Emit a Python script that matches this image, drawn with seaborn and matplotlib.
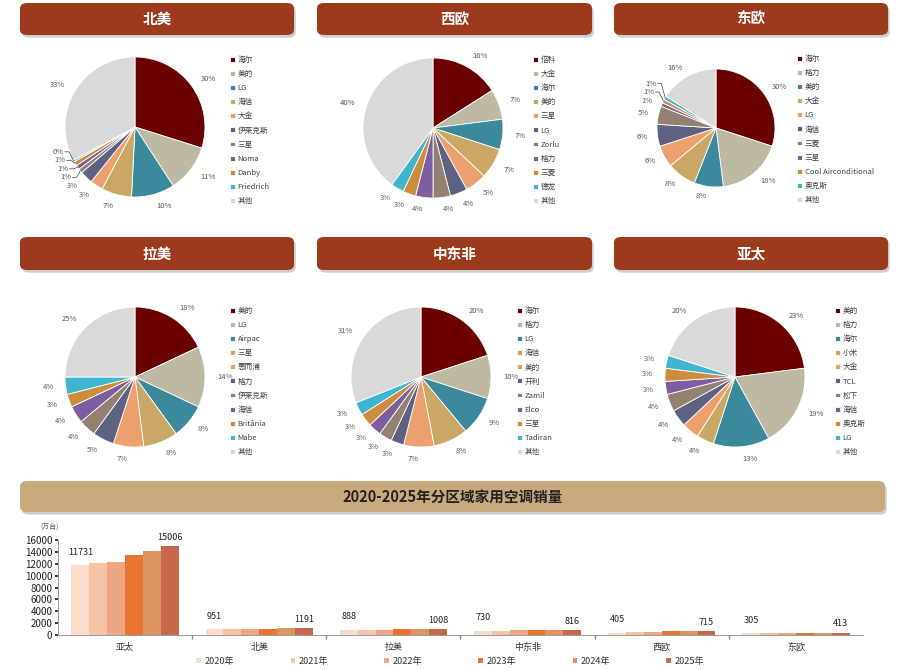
import numpy as np
import pandas as pd
import matplotlib
matplotlib.use('Agg')
import matplotlib.pyplot as plt
import seaborn as sns
from matplotlib.patches import FancyBboxPatch

sns.set_theme(style='white')
plt.rcParams['font.family'] = ['Noto Sans CJK SC', 'DejaVu Sans']

# ---- pie data (market share, %) ----
na_brands = ['海尔', '美的', 'LG', '海信', '大金', '伊莱克斯', '三星', 'Noma', 'Danby', 'Friedrich', '其他']
na_share = [30, 11, 10, 7, 3, 3, 1, 1, 1, 0.4, 33]

we_brands = ['倍科', '大金', '海尔', '美的', '三星', 'LG', 'Zorlu', '格力', '三菱', '德龙', '其他']
we_share = [16, 7, 7, 7, 5, 4, 4, 4, 3, 3, 40]

ee_brands = ['海尔', '格力', '美的', '大金', 'LG', '海信', '三菱', '三星', 'Cool Airconditional', '奥克斯', '其他']
ee_share = [30, 18, 8, 8, 6, 6, 5, 1, 1, 1, 16]

la_brands = ['美的', 'LG', 'Airpac', '三星', '惠而浦', '格力', '伊莱克斯', '海信', 'Britânia', 'Mabe', '其他']
la_share = [18, 14, 8, 8, 7, 5, 4, 4, 3, 4, 25]

mea_brands = ['海尔', '格力', 'LG', '海信', '美的', '开利', 'Zamil', 'Elco', '三星', 'Tadiran', '其他']
mea_share = [20, 10, 9, 8, 7, 3, 3, 3, 3, 3, 31]

ap_brands = ['美的', '格力', '海尔', '小米', '大金', 'TCL', '松下', '海信', '奥克斯', 'LG', '其他']
ap_share = [23, 19, 13, 4, 4, 4, 4, 3, 3, 3, 20]

pie_colors = ['#6b0000', '#bdb9a3', '#3b8a9c', '#c9a866', '#eba06d', '#5d6283',
              '#948070', '#7d5fa0', '#cc8e3c', '#40b5d0', '#d9d9d9']

# ---- bar data (万台) ----
regions = ['亚太', '北美', '拉美', '中东非', '西欧', '东欧']
years = ['2020年', '2021年', '2022年', '2023年', '2024年', '2025年']
sales_2020 = [11731, 951, 888, 730, 405, 305]
sales_2021 = [12050, 1010, 905, 750, 480, 330]
sales_2022 = [12300, 1040, 925, 765, 540, 350]
sales_2023 = [13550, 1090, 960, 785, 600, 370]
sales_2024 = [14200, 1140, 985, 800, 660, 390]
sales_2025 = [15006, 1191, 1008, 816, 715, 413]
bar_colors = ['#fadccb', '#f5c3a5', '#efa783', '#e87434', '#dc9560', '#c9674c']

W, H = 900, 669
fig = plt.figure(figsize=(W / 100, H / 100), dpi=100)


def header(x0, y0, x1, y1, text, face, tcolor):
    shadow = FancyBboxPatch((x0 / W + 0.002, 1 - y1 / H - 0.004), (x1 - x0) / W, (y1 - y0) / H,
                            boxstyle='round,pad=0,rounding_size=0.008', transform=fig.transFigure,
                            facecolor='#b0b0b0', edgecolor='none', alpha=0.6, zorder=0)
    box = FancyBboxPatch((x0 / W, 1 - y1 / H), (x1 - x0) / W, (y1 - y0) / H,
                         boxstyle='round,pad=0,rounding_size=0.008', transform=fig.transFigure,
                         facecolor=face, edgecolor='none', zorder=1)
    fig.patches.extend([shadow, box])
    fig.text((x0 + x1) / 2 / W, 1 - (y0 + y1) / 2 / H, text, ha='center', va='center',
             color=tcolor, fontsize=10.5, fontweight='bold', zorder=2)


def pie_panel(cx, cy, r, brands, share, leg_x, leg_y):
    s = 2.5 * r
    ax = fig.add_axes([(cx - s / 2) / W, 1 - (cy + s / 2) / H, s / W, s / H])
    total = sum(share)
    labels = [f'{round(v / total * 100):.0f}%' for v in share]
    wedges, texts = ax.pie(share, colors=pie_colors, startangle=90, counterclock=False,
                           labels=labels, labeldistance=1.17,
                           wedgeprops=dict(edgecolor='white', linewidth=0.6),
                           textprops=dict(fontsize=5.5, color='#595959'))
    # spread crowded labels on the left side and connect them with leader lines
    gap = 8.5 / r
    wide = 13.0 / r
    left = [i for i, t in enumerate(texts) if t.get_position()[0] < 0]
    left.sort(key=lambda i: texts[i].get_position()[1])
    prev = None
    for i in left:
        x, y = texts[i].get_position()
        if prev is not None and abs(x - prev[0]) < wide and y < prev[1] + gap:
            ang = np.deg2rad((wedges[i].theta1 + wedges[i].theta2) / 2)
            y = prev[1] + gap
            texts[i].set_position((x, y))
            ax.plot([np.cos(ang), x + 0.08, x + 0.02], [np.sin(ang), y, y],
                    color='#404040', lw=0.5)
        prev = (x, y)
    fig.legend(wedges, brands, loc='upper left', bbox_to_anchor=(leg_x / W, 1 - leg_y / H),
               frameon=False, fontsize=5.5, handlelength=0.6, handleheight=0.6,
               handletextpad=0.4, labelspacing=0.8, borderaxespad=0, borderpad=0,
               labelcolor='#404040')


header(20, 3, 294, 35, '北美', '#9c3a1e', 'white')
header(317, 3, 592, 35, '西欧', '#9c3a1e', 'white')
header(614, 3, 888, 35, '东欧', '#9c3a1e', 'white')
header(20, 237, 294, 270, '拉美', '#9c3a1e', 'white')
header(317, 237, 592, 270, '中东非', '#9c3a1e', 'white')
header(614, 237, 888, 270, '亚太', '#9c3a1e', 'white')
header(20, 481, 885, 512, '2020-2025年分区域家用空调销量', '#c9aa7c', '#222222')

pie_panel(135, 127, 70, na_brands, na_share, 230, 56)
pie_panel(433, 128, 70, we_brands, we_share, 533, 56)
pie_panel(716, 128, 59, ee_brands, ee_share, 797, 55)
pie_panel(135, 377, 70, la_brands, la_share, 230, 307)
pie_panel(421, 377, 70, mea_brands, mea_share, 517, 307)
pie_panel(735, 377, 70, ap_brands, ap_share, 835, 307)

# ---- bar chart ----
all_sales = [sales_2020, sales_2021, sales_2022, sales_2023, sales_2024, sales_2025]
df = pd.DataFrame([(rg, yr, vals[k]) for yr, vals in zip(years, all_sales)
                   for k, rg in enumerate(regions)], columns=['region', 'year', 'sales'])

bx = fig.add_axes([58 / W, 1 - 635 / H, (863 - 58) / W, 95 / H])
sns.barplot(data=df, x='region', y='sales', hue='year', palette=bar_colors, width=0.8,
            saturation=1, ax=bx, linewidth=0)
bx.set_ylim(0, 16000)
bx.set_xlim(-0.5, 5.5)
bx.set_yticks(range(0, 16001, 2000))
bx.tick_params(axis='y', labelsize=7, length=2, pad=2, colors='#222222', left=True)
bx.tick_params(axis='x', labelsize=6.5, length=0, pad=6, colors='#333333')
bx.set_xticks(np.arange(0.5, 5.5, 1), minor=True)
bx.tick_params(axis='x', which='minor', length=3, color='#888888', bottom=True)
bx.set_xlabel('')
bx.set_ylabel('')
for side in ['top', 'right']:
    bx.spines[side].set_visible(False)
for side in ['left', 'bottom']:
    bx.spines[side].set_color('#999999')
    bx.spines[side].set_linewidth(0.7)

bx.bar_label(bx.containers[0], labels=[str(v) for v in sales_2020], padding=6, fontsize=6.5, color='#222222')
bx.bar_label(bx.containers[-1], labels=[str(v) for v in sales_2025], padding=3, fontsize=6.5, color='#222222')

handles, labs = bx.get_legend_handles_labels()
bx.legend(handles, labs, loc='upper center', bbox_to_anchor=(0.487, -0.19), ncol=6, frameon=False,
          fontsize=6.5, handlelength=0.55, handleheight=0.55, handletextpad=0.3,
          columnspacing=6.3, borderaxespad=0, labelcolor='#333333')
fig.text(40 / W, 1 - 527 / H, '(万台)', fontsize=5, color='#555555', va='center')

fig.savefig('out.png', dpi=100)
